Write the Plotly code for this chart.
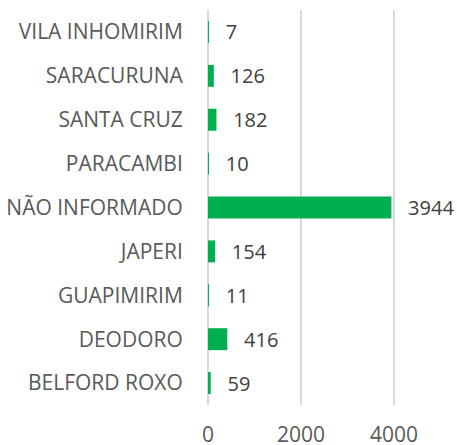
import plotly.graph_objects as go

categories = ["BELFORD ROXO", "DEODORO", "GUAPIMIRIM", "JAPERI", "NÃO INFORMADO",
              "PARACAMBI", "SANTA CRUZ", "SARACURUNA", "VILA INHOMIRIM"]
values = [59, 416, 11, 154, 3944, 10, 182, 126, 7]
tick_vals = [0, 2000, 4000]

FONT = "Open Sans"
fig = go.Figure(go.Bar(
    y=categories, x=values, orientation="h",
    marker=dict(color="#00B050", line=dict(width=0)),
    text=values, texttemplate="  \u2009%{x}", textposition="outside",
    constraintext="none",
    textfont=dict(family=FONT, size=20, color="#404040"),
    cliponaxis=False,
))
fig.update_layout(
    width=457, height=445,
    margin=dict(l=208, r=0, t=10, b=40),
    plot_bgcolor="white", paper_bgcolor="white",
    bargap=0.5, showlegend=False,
    xaxis=dict(range=[0, 5355], tickvals=tick_vals, showgrid=True, automargin=False,
               gridcolor="#D9D9D9", gridwidth=1.5, zeroline=True,
               zerolinecolor="#D9D9D9", zerolinewidth=1.5,
               tickfont=dict(family=FONT, size=21, color="#595959"),
               ticks="outside", ticklen=11, tickcolor="rgba(0,0,0,0)"),
    yaxis=dict(categoryorder="array", categoryarray=categories, automargin=False,
               tickfont=dict(family=FONT, size=21, color="#595959"),
               ticks="outside", ticklen=20, tickcolor="rgba(0,0,0,0)"),
)
fig.write_html("out.html", config={"displayModeBar": False},
               post_script="document.body.style.margin='0';document.body.style.overflow='hidden';")
